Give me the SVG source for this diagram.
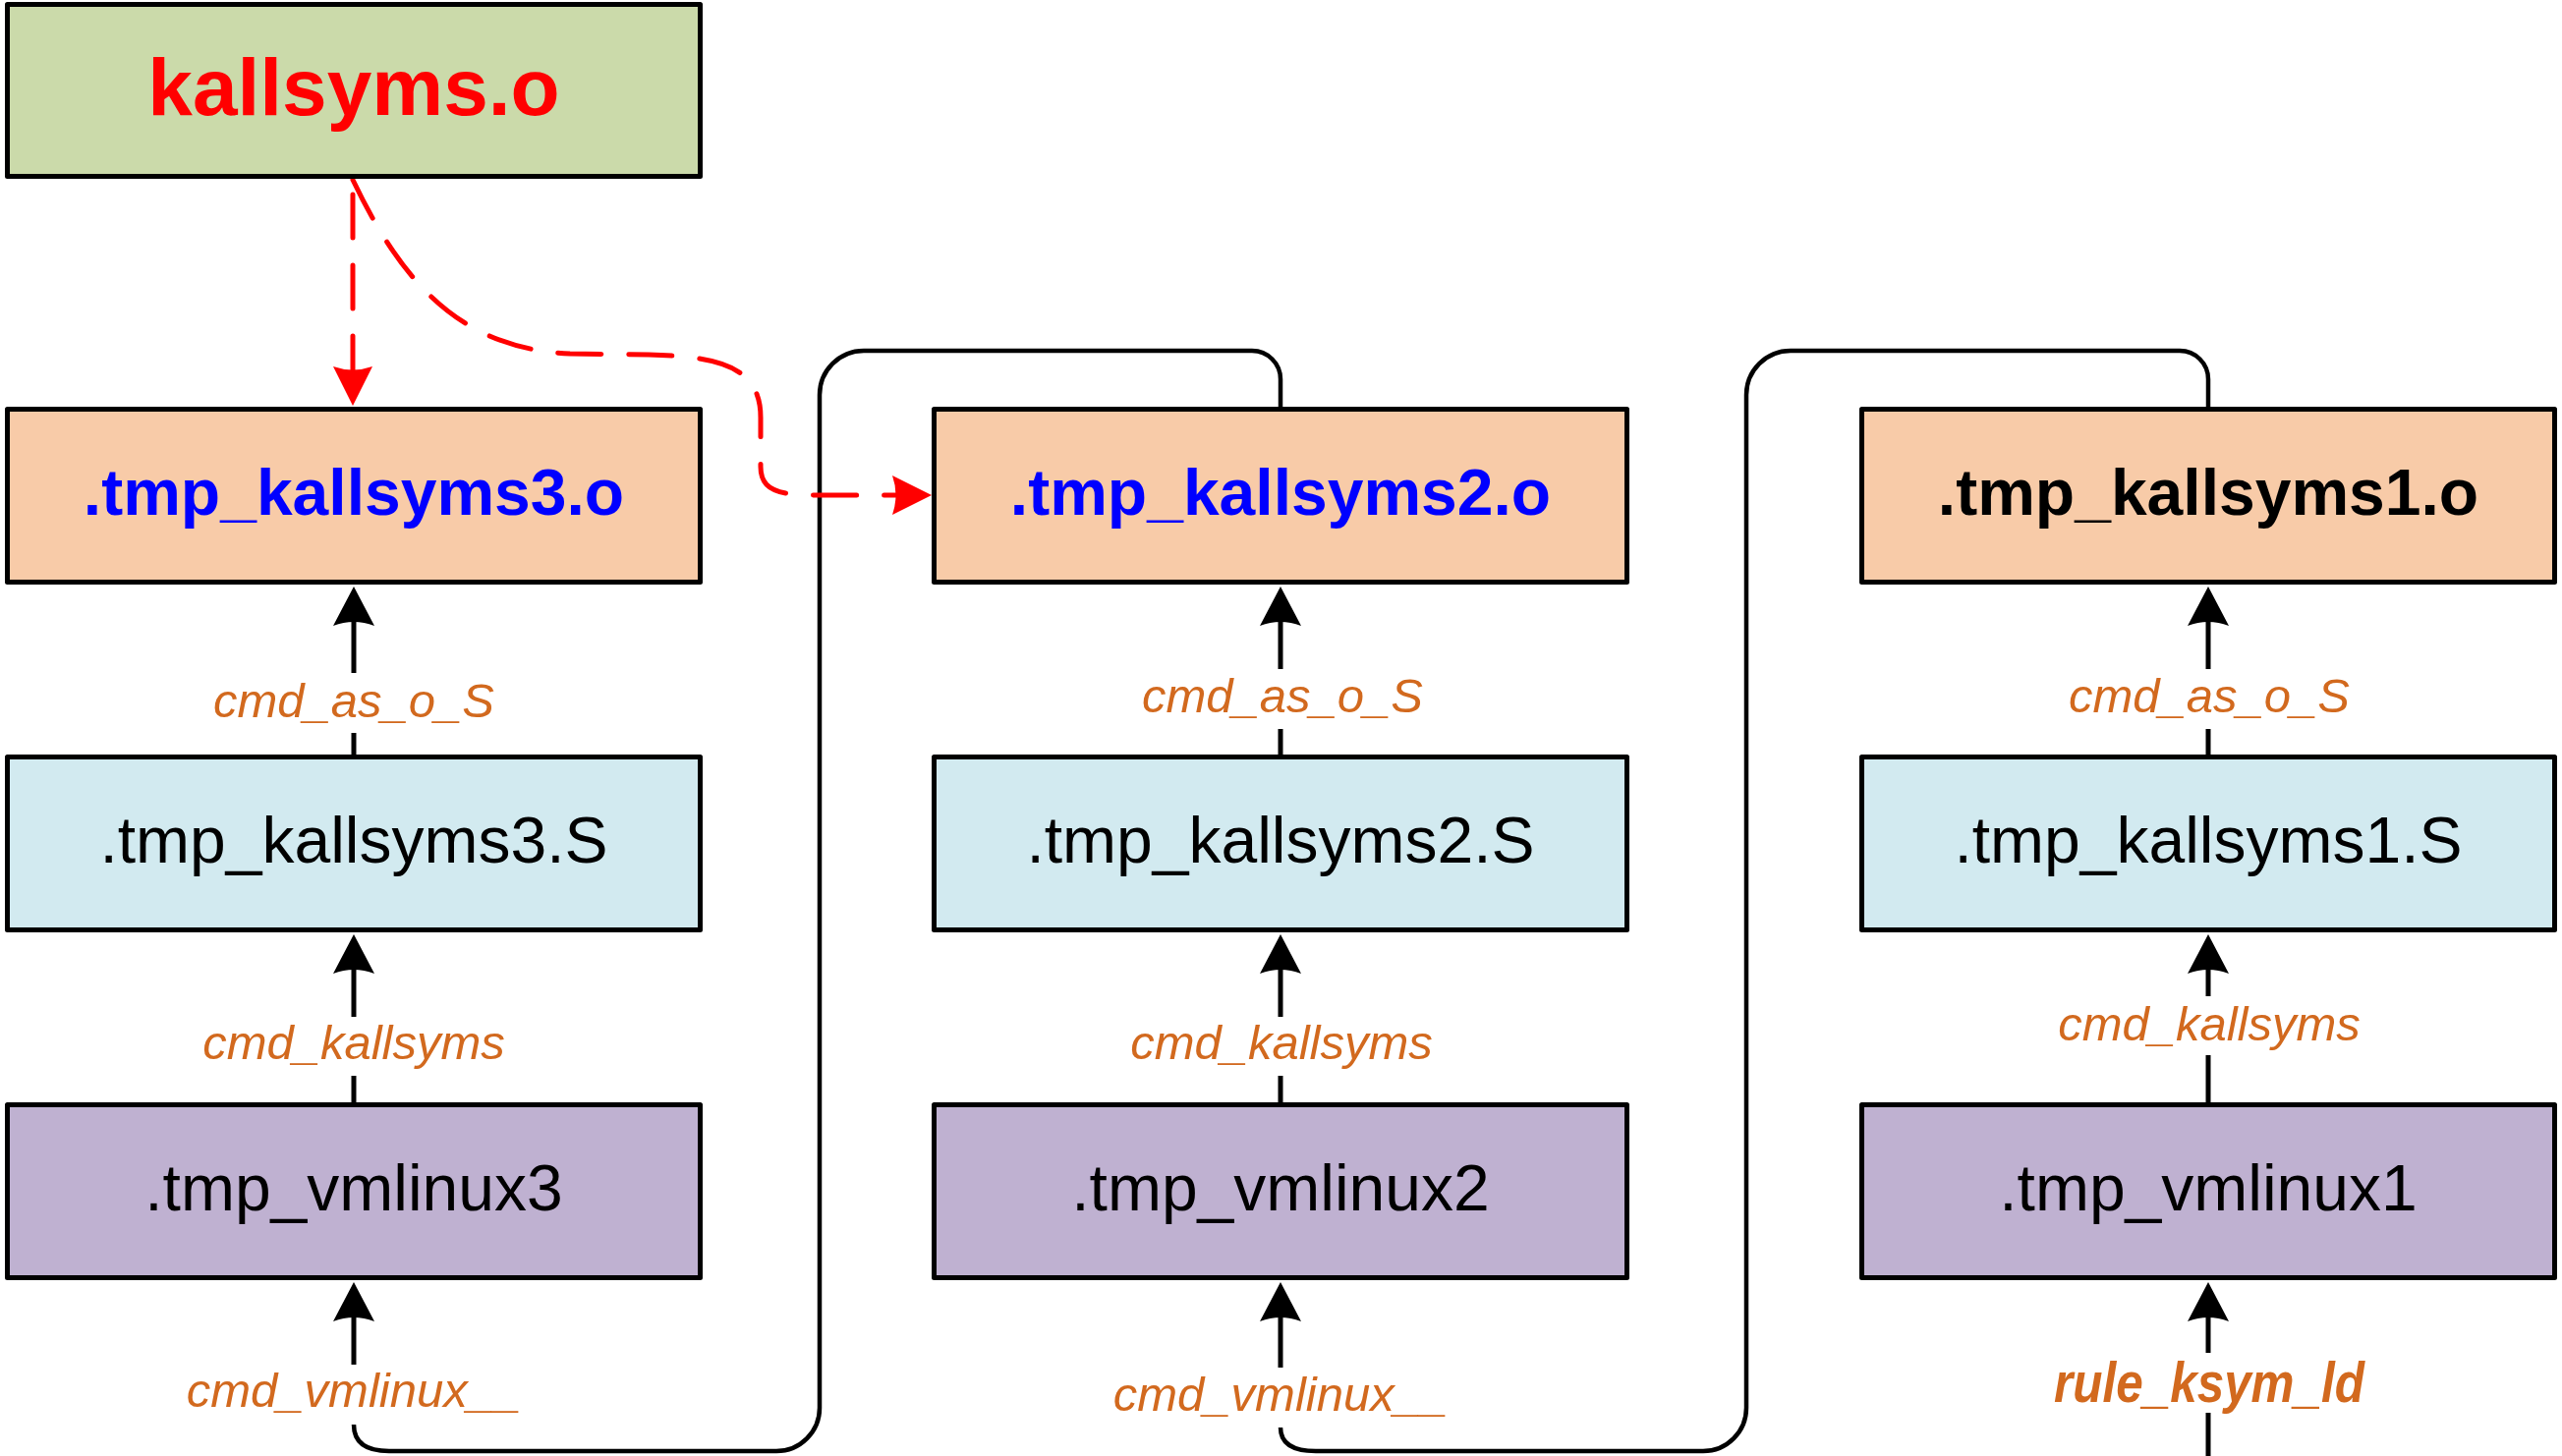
<svg xmlns="http://www.w3.org/2000/svg" width="2607" height="1482" viewBox="0 0 2607 1482">
<style>
.box{stroke:#000;stroke-width:5;stroke-linejoin:round}
.g{fill:#CBDAAA}.o{fill:#F8CBA8}.s{fill:#D2EAF0}.v{fill:#BFB1D1}
.nt{font-family:"Liberation Sans",Arial,sans-serif;font-size:66px;text-anchor:middle;fill:#000}
.b{font-weight:bold}
.lab{font-family:"Liberation Sans",Arial,sans-serif;font-size:49px;font-style:italic;text-anchor:middle;fill:#D2691E}
.ln{stroke:#000;stroke-width:5;fill:none}
.loop{stroke:#000;stroke-width:4.5;fill:none;stroke-linejoin:round}
.red{stroke:#FF0000;stroke-width:5;fill:none;stroke-dasharray:44 28;stroke-linecap:round}
</style>
<defs>
<marker id="ah" markerUnits="userSpaceOnUse" markerWidth="60" markerHeight="60" viewBox="-45 -30 60 60" refX="0" refY="0" orient="auto" overflow="visible">
<path d="M12,0 L-28,-21 Q-20,0 -28,21 Z" fill="#000"/>
</marker>
<marker id="ahr" markerUnits="userSpaceOnUse" markerWidth="60" markerHeight="60" viewBox="-45 -30 60 60" refX="0" refY="0" orient="auto" overflow="visible">
<path d="M12,0 L-28,-20 Q-21,0 -28,20 Z" fill="#FF0000"/>
</marker>
</defs>

<g id="connectors">
<!-- column 1 -->
<line class="ln" x1="360" y1="685" x2="360" y2="609" marker-end="url(#ah)"/>
<line class="ln" x1="360" y1="746" x2="360" y2="768"/>
<line class="ln" x1="360" y1="1035" x2="360" y2="963" marker-end="url(#ah)"/>
<line class="ln" x1="360" y1="1095" x2="360" y2="1122"/>
<line class="ln" x1="360" y1="1389" x2="360" y2="1317" marker-end="url(#ah)"/>
<!-- column 2 -->
<line class="ln" x1="1303" y1="681" x2="1303" y2="609" marker-end="url(#ah)"/>
<line class="ln" x1="1303" y1="742" x2="1303" y2="768"/>
<line class="ln" x1="1303" y1="1035" x2="1303" y2="963" marker-end="url(#ah)"/>
<line class="ln" x1="1303" y1="1095" x2="1303" y2="1122"/>
<line class="ln" x1="1303" y1="1392" x2="1303" y2="1317" marker-end="url(#ah)"/>
<!-- column 3 -->
<line class="ln" x1="2247" y1="681" x2="2247" y2="609" marker-end="url(#ah)"/>
<line class="ln" x1="2247" y1="742" x2="2247" y2="768"/>
<line class="ln" x1="2247" y1="1014" x2="2247" y2="963" marker-end="url(#ah)"/>
<line class="ln" x1="2247" y1="1074" x2="2247" y2="1122"/>
<line class="ln" x1="2247" y1="1377" x2="2247" y2="1317" marker-end="url(#ah)"/>
<line class="ln" x1="2247" y1="1438" x2="2247" y2="1482"/>
<!-- loops -->
<path class="loop" d="M360,1450 Q360,1477 396,1477 L790,1477 A44,44 0 0 0 834,1433 L834,402 A45,45 0 0 1 879,357 L1274,357 A29,29 0 0 1 1303,386 L1303,416"/>
<path class="loop" d="M1303,1453 Q1303,1477 1339,1477 L1733,1477 A44,44 0 0 0 1777,1433 L1777,402 A45,45 0 0 1 1822,357 L2218,357 A29,29 0 0 1 2247,386 L2247,416"/>
<!-- red dashed -->
<path class="red" stroke-dashoffset="57" d="M359,183 L359,401" marker-end="url(#ahr)"/>
<path class="red" d="M359,183 C410,290 470,355 580,360 L660,361 C730,363 774,372 774,425 L774,475 C774,498 790,504 830,504 L936,504" marker-end="url(#ahr)"/>
</g>

<g id="kallsyms_o">
<rect class="box g" x="7.5" y="4.5" width="705" height="175"/>
<text class="nt b" x="360" y="117" font-size="82" style="font-size:82px" fill="#FF0000"><tspan fill="#FF0000">kallsyms.o</tspan></text>
</g>

<g id="tmp_kallsyms3_o">
<rect class="box o" x="7.5" y="416.5" width="705" height="176"/>
<text class="nt b" x="360" y="524"><tspan fill="#0000FF">.tmp_kallsyms3.o</tspan></text>
</g>
<g id="tmp_kallsyms2_o">
<rect class="box o" x="950.5" y="416.5" width="705" height="176"/>
<text class="nt b" x="1303" y="524"><tspan fill="#0000FF">.tmp_kallsyms2.o</tspan></text>
</g>
<g id="tmp_kallsyms1_o">
<rect class="box o" x="1894.5" y="416.5" width="705" height="176"/>
<text class="nt b" x="2247" y="524">.tmp_kallsyms1.o</text>
</g>

<g id="tmp_kallsyms3_S">
<rect class="box s" x="7.5" y="770.5" width="705" height="176"/>
<text class="nt" x="360" y="878">.tmp_kallsyms3.S</text>
</g>
<g id="tmp_kallsyms2_S">
<rect class="box s" x="950.5" y="770.5" width="705" height="176"/>
<text class="nt" x="1303" y="878">.tmp_kallsyms2.S</text>
</g>
<g id="tmp_kallsyms1_S">
<rect class="box s" x="1894.5" y="770.5" width="705" height="176"/>
<text class="nt" x="2247" y="878">.tmp_kallsyms1.S</text>
</g>

<g id="tmp_vmlinux3">
<rect class="box v" x="7.5" y="1124.5" width="705" height="176"/>
<text class="nt" x="360" y="1232">.tmp_vmlinux3</text>
</g>
<g id="tmp_vmlinux2">
<rect class="box v" x="950.5" y="1124.5" width="705" height="176"/>
<text class="nt" x="1303" y="1232">.tmp_vmlinux2</text>
</g>
<g id="tmp_vmlinux1">
<rect class="box v" x="1894.5" y="1124.5" width="705" height="176"/>
<text class="nt" x="2247" y="1232">.tmp_vmlinux1</text>
</g>

<g id="labels">
<text class="lab" x="360" y="730">cmd_as_o_S</text>
<text class="lab" x="1305" y="725">cmd_as_o_S</text>
<text class="lab" x="2248" y="725">cmd_as_o_S</text>
<text class="lab" x="360" y="1078">cmd_kallsyms</text>
<text class="lab" x="1304" y="1078">cmd_kallsyms</text>
<text class="lab" x="2248" y="1059">cmd_kallsyms</text>
<text class="lab" x="360" y="1432">cmd_vmlinux__</text>
<text class="lab" x="1303" y="1436">cmd_vmlinux__</text>
<text class="lab" x="2248" y="1427" style="font-weight:bold;font-size:58px" textLength="316" lengthAdjust="spacingAndGlyphs">rule_ksym_ld</text>
</g>
</svg>
